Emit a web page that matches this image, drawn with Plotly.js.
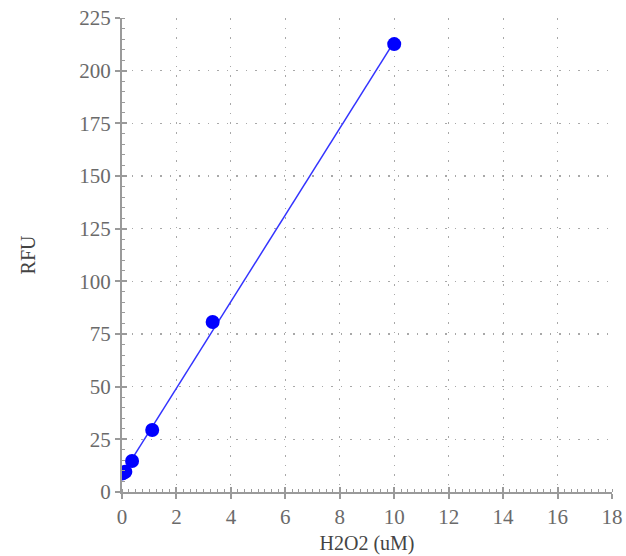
<!DOCTYPE html>
<html>
<head>
<meta charset="utf-8">
<script src="https://cdn.plot.ly/plotly-3.0.1.min.js"></script>
<style>html,body{margin:0;padding:0;background:#fff;}#chart{width:626px;height:556px;}</style>
</head>
<body>
<div id="chart"></div>
<script>
// Data
const concentrations = [0, 0.041, 0.123, 0.37, 1.11, 3.33, 10];   // H2O2 (uM)
const rfu = [8.8, 9.0, 9.6, 14.7, 29.4, 80.7, 212.6];             // RFU
const xTicks = [0, 2, 4, 6, 8, 10, 12, 14, 16, 18];
const yTicks = [0, 25, 50, 75, 100, 125, 150, 175, 200, 225];

// Least-squares fit line computed from the data
const n = concentrations.length;
const mx = concentrations.reduce((a, b) => a + b, 0) / n;
const my = rfu.reduce((a, b) => a + b, 0) / n;
let sxy = 0, sxx = 0;
for (let i = 0; i < n; i++) {
  sxy += (concentrations[i] - mx) * (rfu[i] - my);
  sxx += (concentrations[i] - mx) ** 2;
}
const slope = sxy / sxx;
const intercept = my - slope * mx;
const fitX = [Math.min(...concentrations), Math.max(...concentrations)];
const fitY = fitX.map(x => intercept + slope * x);

const FONT = '"Liberation Serif", "DejaVu Serif", serif';
const AXIS_COLOR = '#9a9a9a';

const traces = [
  {x: fitX, y: fitY, type: 'scatter', mode: 'lines',
   line: {color: '#3333ff', width: 1.5}, hoverinfo: 'skip', showlegend: false},
  {x: concentrations, y: rfu, type: 'scatter', mode: 'markers',
   marker: {color: '#0000ff', size: 14}, showlegend: false},
  {x: [], y: [], xaxis: 'x2', yaxis: 'y2', type: 'scatter', mode: 'markers', showlegend: false, hoverinfo: 'skip'}
];

const common = {
  showline: true, linecolor: AXIS_COLOR, linewidth: 2,
  ticks: 'outside', ticklen: 5, tickwidth: 2, tickcolor: AXIS_COLOR,
  tickfont: {family: FONT, size: 21, color: '#6a6a6a'},
  showgrid: true, gridcolor: '#a8a8a8', gridwidth: 1.2, griddash: '1.5px,8px',
  zeroline: false, mirror: false, fixedrange: true
};

const layout = {
  width: 626, height: 556,
  margin: {l: 122, r: 14, t: 18, b: 64},
  paper_bgcolor: '#ffffff', plot_bgcolor: '#ffffff',
  showlegend: false,
  xaxis: Object.assign({}, common, {
    range: [0, 18], tickmode: 'array', tickvals: xTicks, ticktext: xTicks.map(String),
    minor: {ticks: 'inside', ticklen: 3, tickwidth: 1, tickcolor: AXIS_COLOR, dtick: 0.25, tick0: 0, showgrid: false},
    title: {text: 'H2O2 (uM)', font: {family: FONT, size: 20, color: '#444'}, standoff: 8}
  }),
  yaxis: Object.assign({}, common, {
    range: [0, 225], tickmode: 'array', tickvals: yTicks, ticktext: yTicks.map(String),
    minor: {ticks: 'inside', ticklen: 3, tickwidth: 1, tickcolor: AXIS_COLOR, dtick: 5, tick0: 0, showgrid: false},
    title: {text: 'RFU', font: {family: FONT, size: 20, color: '#444'}, standoff: 38}
  }),
  xaxis2: {overlaying: 'x', anchor: 'y2', side: 'bottom', range: [0, 18], tickmode: 'array', tickvals: xTicks,
    ticks: 'inside', ticklen: 5, tickwidth: 2, tickcolor: AXIS_COLOR, showticklabels: false,
    showgrid: false, zeroline: false, showline: false, fixedrange: true},
  yaxis2: {overlaying: 'y', anchor: 'x2', side: 'left', range: [0, 225], tickmode: 'array', tickvals: yTicks,
    ticks: 'inside', ticklen: 5, tickwidth: 2, tickcolor: AXIS_COLOR, showticklabels: false,
    showgrid: false, zeroline: false, showline: false, fixedrange: true}
};

Plotly.newPlot('chart', traces, layout, {displayModeBar: false, staticPlot: true});
</script>
</body>
</html>
